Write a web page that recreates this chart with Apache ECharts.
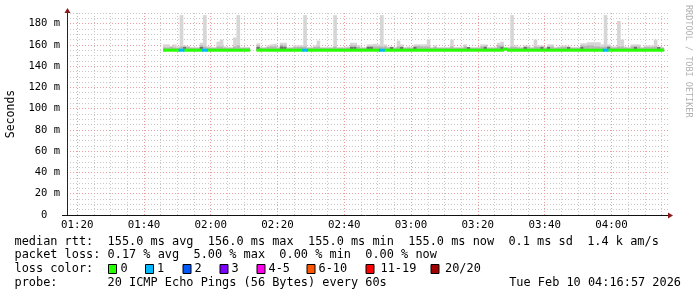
<!DOCTYPE html>
<html><head><meta charset="utf-8">
<script src="https://cdn.jsdelivr.net/npm/echarts@6/dist/echarts.min.js"></script>
<style>html,body{margin:0;padding:0;background:#fff}#c{width:697px;height:297px}</style>
</head><body><div id="c"></div>
<script>
// ---------- data ----------
const windowStartTime = '01:16:57';
const windowEndTime = '04:16:57';
const firstSample = '01:45:42';
const stepSeconds = 60;
const xTickLabels = ['01:20','01:40','02:00','02:20','02:40','03:00','03:20','03:40','04:00'];
const yTickValues = [0,20,40,60,80,100,120,140,160,180];
const yTickLabels = ['0  ','20 m','40 m','60 m','80 m','100 m','120 m','140 m','160 m','180 m'];
const _ = null;
// max ping per sample (ms)
const pingMax = [160.5,160.5,159,160.5,158.5,188,159.5,159,158,158,
 158,162,188,158.5,158,158,163,165,158.5,158,
 158,167,188,158,158,158,_,_,161.5,158,
 158,159.5,160.5,161,158,162,162,158,158,159.5,
 159.5,159.5,188,158,158,159.5,164,158,158,158,
 158,188,158,158,158,158.5,162,162,159.5,158,
 158,160.5,160.5,161,160.5,188,160.5,158.5,158.5,158,
 164,160.5,158,158.5,158,160.5,160.5,160.5,160.5,165,
 158,159.5,158,158,158,158,165,158,158,158,
 160.5,158,158,158,158,160.5,160.5,158,158,158,
 162,163,158,158,188,159.5,158.5,158,159.5,159.5,
 158,165,159.5,159.5,158,160.5,160.5,158,158.5,159.5,
 159.5,158,158,158,158,161.5,161.5,162.5,162.5,162.5,
 162.5,160.5,188,160.5,158.5,158.5,182.5,165,158.5,158,
 160.5,160.5,160.5,158,159.5,159.5,159.5,165,158.5,158];
// upper edge of the denser part of the ping spread (ms)
const pingMid = [157.5,157.5,158,157.5,157,158.5,158.5,158,157,157,
 157,159.5,158.5,157.5,157,157,158.5,158.5,157.5,157,
 157,158.5,159.5,157,157,157,_,_,159.5,157,
 157,158,158.5,158.5,157,160,159.5,157,157,158,
 158,158,158.5,157,157,158,158.5,157,157,157,
 157,158.5,157,157,157,157.5,159.5,159.5,158,157,
 157,159,159,158.5,158.5,158.5,158.5,157.5,158,157,
 158.5,158.5,157,157.5,157,159,159,158.5,158.5,158.5,
 157,158,157,157,157,157,158.5,157,157,157,
 158.5,157,157,157,157,158.5,159,157,157,157,
 159.5,159.5,157,157,158.5,158,157.5,157,158.5,158,
 157,158.5,158,158.5,157,158.5,158.5,157,157.5,158,
 158,158.5,157,157,157,159.5,159,159.5,159.5,158.5,
 158.5,158,158.5,159,157.5,157.5,158.5,158.5,157.5,157,
 158.5,159,158.5,157,158,158,158,158.5,158,157];
// core of the ping spread (ms), where it is dense
const pingCore = [_,_,_,_,_,_,158,_,_,_,
 _,158,_,_,_,_,_,_,_,_,
 _,_,_,_,_,_,_,_,158,_,
 _,_,_,_,_,158.5,158,_,_,_,
 _,_,_,_,_,_,_,_,_,_,
 _,_,_,_,_,_,158,158,_,_,
 _,158,158,_,_,_,_,_,158,_,
 _,158,_,_,_,158,_,_,_,_,
 _,_,_,_,_,_,_,_,_,_,
 _,158,_,_,_,_,158,_,_,_,
 _,158,_,_,_,_,_,_,158,_,
 _,_,_,158,_,158,_,_,_,_,
 _,158,_,_,_,158,_,_,_,_,
 _,_,_,158,_,_,_,_,_,_,
 _,158,_,_,_,_,_,_,158,_];
// median rtt (ms)
const medianRtt = [155,155,155,155,155,155,155,155,155,155,
 155,155,155,155,155,155,155,155,155,155,
 155,155,155,155,155,155,_,_,155,155,
 155,155,155,155,155,155,155,155,155,155,
 155,155,155,155,155,155,155,155,155,155,
 155,155,155,155,155,155,155,155,155,155,
 155,155,155,155,155,155,155,155,155,155,
 155,155,155,155,155,155,155,155,155,155,
 155,155,155,155,155,155,155,155,155,155,
 155,155,155,155,155,155,155,155,155,155,
 155,155,156,155,155,155,155,155,155,155,
 155,155,155,155,155,155,155,155,155,155,
 155,155,155,155,155,155,155,155,155,155,
 155,155,155,155,155,155,155,155,155,155,
 155,155,155,155,155,155,155,155,155,155];
// lost pings out of 20
const lossCount = [0,0,0,0,0,1,0,0,0,0,
 0,0,1,0,0,0,0,0,0,0,
 0,0,0,0,0,0,_,_,0,0,
 0,0,0,0,0,0,0,0,0,0,
 0,0,1,0,0,0,0,0,0,0,
 0,0,0,0,0,0,0,0,0,0,
 0,0,0,0,0,1,0,0,0,0,
 0,0,0,0,0,0,0,0,0,0,
 0,0,0,0,0,0,0,0,0,0,
 0,0,0,0,0,0,0,0,0,0,
 0,0,0,0,0,0,0,0,0,0,
 0,0,0,0,0,0,0,0,0,0,
 0,0,0,0,0,0,0,0,0,0,
 0,0,1,0,0,0,0,0,0,0,
 0,0,0,0,0,0,0,0,0,0];
const lossLegend = ['0','1','2','3','4-5','6-10','11-19','20/20'];
const lossUpper = [0,1,2,3,5,10,19,20];
const lossColors = ['#26ff00','#00b8ff','#0059ff','#7e00ff','#ff00ea','#ff5500','#ff0000','#a10000'];
const statsLines = [
  'median rtt:  155.0 ms avg  156.0 ms max  155.0 ms min  155.0 ms now  0.1 ms sd  1.4 k am/s',
  'packet loss: 0.17 % avg  5.00 % max  0.00 % min  0.00 % now',
  'loss color:',
  'probe:       20 ICMP Echo Pings (56 Bytes) every 60s'
];
const stamp = 'Tue Feb 10 04:16:57 2026';
const yAxisTitle = 'Seconds';
const watermark = 'RRDTOOL / TOBI OETIKER';

// ---------- helpers ----------
const toMin = s => { const p = s.split(':').map(Number); return p[0]*60 + p[1] + p[2]/60; };
const hm = s => { const p = s.split(':').map(Number); return p[0]*60 + p[1]; };
const t0 = toMin(firstSample), stepMin = stepSeconds/60;
const xMin = toMin(windowStartTime), xMax = toMin(windowEndTime);
const xTickVals = xTickLabels.map(hm);
const fmt = v => { const h = Math.floor(v/60), m = Math.round(v - h*60); return String(h).padStart(2,'0')+':'+String(m).padStart(2,'0'); };
const bucket = l => lossUpper.findIndex(u => l <= u);

const smokeData = [], medData = [];
medianRtt.forEach((m, i) => {
  if (m == null) return;
  const t = t0 + i*stepMin;
  smokeData.push([t, m, pingMax[i], pingMid[i], pingCore[i] == null ? NaN : pingCore[i]]);
  medData.push([t, m, lossCount[i]]);
});

// grid lines
const minorX = [], majorX = [];
for (let v = Math.ceil(xMin/5)*5; v <= xMax; v += 5) (v % 20 === 0 ? majorX : minorX).push(v);
const minorY = [], majorY = [];
for (let v = 5; v <= 190; v += 5) (v % 20 === 0 ? majorY : minorY).push(v);

const MONO = '"DejaVu Sans Mono", monospace';
const gridLine = (axis, vals, color) => ({
  type: 'line', data: [], silent: true, z: 1,
  markLine: { silent: true, z: 1, symbol: ['none','none'], label: {show:false}, animation: false,
    lineStyle: { color, width: 1, type: [1,2] },
    data: vals.map(v => ({ [axis]: v })) }
});

const chart = echarts.init(document.getElementById('c'));
const gl = 67, gt = 13, gr = 697-668, gb = 297-215;

const graphic = [];
const lineY = [241.5, 255.3, 269.2, 283];
statsLines.forEach((s, i) => graphic.push({ type:'text', x:14.5, y:lineY[i],
  style:{ text:s, font:'11.9px '+MONO, fill:'#000', textVerticalAlign:'middle' } }));
graphic.push({ type:'text', x:681, y:lineY[3], style:{ text:stamp, font:'11.9px '+MONO, fill:'#000', textAlign:'right', textVerticalAlign:'middle' } });
const boxX = [108, 145, 182.5, 219.5, 256.5, 306.5, 365.5, 430.5];
const labX = [120.5, 157, 194.5, 231.5, 268.5, 318.5, 380.5, 445];
lossLegend.forEach((l, i) => {
  graphic.push({ type:'rect', shape:{ x:boxX[i]+0.5, y:264.5, width:8, height:9 }, style:{ fill:lossColors[i], stroke:'#000', lineWidth:1 } });
  graphic.push({ type:'text', x:labX[i], y:lineY[2], style:{ text:l, font:'11.9px '+MONO, fill:'#000', textVerticalAlign:'middle' } });
});
graphic.push({ type:'text', x:688, y:5, rotation:-Math.PI/2,
  style:{ text:watermark, font:'8.5px '+MONO, fill:'#b0b0b0', textVerticalAlign:'middle' } });
// axis lines and arrows
graphic.push({ type:'line', z:100, shape:{ x1:67.5, y1:12, x2:67.5, y2:216 }, style:{ stroke:'#222', lineWidth:1 } });
graphic.push({ type:'line', z:100, shape:{ x1:62, y1:215.5, x2:669, y2:215.5 }, style:{ stroke:'#111', lineWidth:1 } });
graphic.push({ type:'polygon', z:100, shape:{ points:[[64.5,13],[70.5,13],[67.5,8]] }, style:{ fill:'#8b1a1a' } });
graphic.push({ type:'polygon', z:100, shape:{ points:[[668,212.5],[668,218.5],[673,215.5]] }, style:{ fill:'#8b1a1a' } });

chart.setOption({
  animation: false,
  backgroundColor: '#fff',
  grid: { left: gl, top: gt, right: gr, bottom: gb, containLabel: false, outerBoundsMode: 'none' },
  xAxis: {
    type: 'value', min: xMin, max: xMax,
    axisLine: { show: false },
    axisTick: { show: false },
    splitLine: { show: false },
    axisLabel: { customValues: xTickVals, formatter: v => fmt(v), color: '#000',
      fontFamily: MONO, fontSize: 10.8, margin: 5 }
  },
  yAxis: {
    type: 'value', min: 0, max: 190, interval: 20,
    name: yAxisTitle, nameLocation: 'middle', nameGap: 49, nameRotate: 90,
    nameTextStyle: { fontFamily: MONO, fontSize: 11.5, color: '#000' },
    axisLine: { show: false },
    axisTick: { show: false },
    splitLine: { show: false },
    axisLabel: { showMaxLabel: false, color: '#000', fontFamily: MONO, fontSize: 10.5, margin: 7,
      formatter: v => { const k = yTickValues.indexOf(v); return k < 0 ? '' : yTickLabels[k]; } }
  },
  graphic,
  series: [
    gridLine('xAxis', minorX, '#c8c8c8'),
    gridLine('yAxis', minorY, '#c8c8c8'),
    gridLine('xAxis', majorX, '#eaa0a0'),
    gridLine('yAxis', majorY, '#eaa0a0'),
    {
      type: 'custom', z: 10, silent: true, data: smokeData,
      renderItem: (params, api) => {
        const t = api.value(0), med = api.value(1);
        const p0 = api.coord([t, med]), x1 = api.coord([t + stepMin, med])[0];
        const bands = [[api.value(2), '#d6d6d6'], [api.value(3), '#b4b4b4'], [api.value(4), '#707070']];
        const children = [];
        bands.forEach(([v, c]) => {
          if (!isFinite(v) || v <= med) return;
          const y = api.coord([t, v])[1];
          children.push({ type:'rect', shape:{ x:p0[0], y, width:x1-p0[0]+0.3, height:p0[1]-y }, style:{ fill:c } });
        });
        return { type:'group', children };
      }
    },
    {
      type: 'custom', z: 11, silent: true, data: medData,
      renderItem: (params, api) => {
        const t = api.value(0), med = api.value(1), loss = api.value(2);
        const p0 = api.coord([t, med]), x1 = api.coord([t + stepMin, med])[0];
        const ext = loss > 0 ? 1 : 0;
        return { type:'rect', z2: loss > 0 ? 10 : 0,
          shape:{ x:p0[0]-ext, y:p0[1]-1.5, width:x1-p0[0]+0.4+2*ext, height:3 },
          style:{ fill: lossColors[bucket(loss)] } };
      }
    }
  ]
});
</script></body></html>
